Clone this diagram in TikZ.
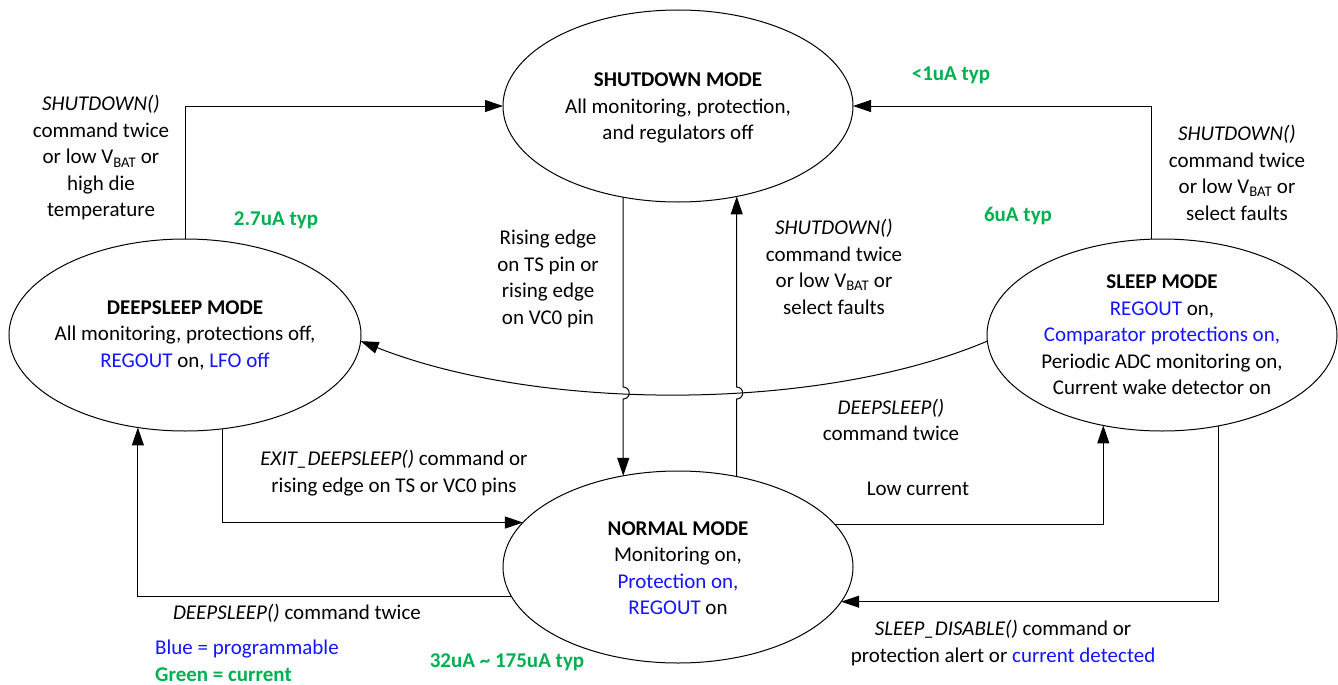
\documentclass[tikz,border=0pt]{standalone}
\usepackage{fontspec}
\setmainfont{Carlito}
\usetikzlibrary{arrows.meta,shapes.geometric}
\definecolor{prog}{RGB}{20,20,255}
\definecolor{cur}{RGB}{0,176,80}
\begin{document}
\begin{tikzpicture}[x=1pt,y=-1pt,
  state/.style={draw, ellipse, line width=1pt, minimum width=350pt, minimum height=192pt, inner sep=0pt, outer sep=0pt},
  txt/.style={align=center, font=\fontsize{21}{26.5}\selectfont, inner sep=0pt},
  curtxt/.style={txt, text=cur, font=\fontsize{21}{26.5}\selectfont\bfseries},
  conn/.style={line width=1pt, -{Triangle[length=18pt,width=12pt]}},
]
\useasboundingbox (0,0) rectangle (1338,685);

% states
\node[state] (shut) at (678,106) {};
\node[state, minimum width=352pt] (deep) at (185,335) {};
\node[state] (sleep) at (1162,335) {};
\node[state] (norm) at (678,567) {};

\node[txt] (tshut) at ([yshift=-2pt]shut.center) {\textbf{SHUTDOWN MODE}\\All monitoring, protection,\\and regulators off};
\node[txt] (tdeep) at (deep.center) {\textbf{DEEPSLEEP MODE}\\All monitoring, protections off,\\\textcolor{prog}{REGOUT} on, \textcolor{prog}{LFO off}};
\node[txt] (tsleep) at (sleep.center) {\textbf{SLEEP MODE}\\\textcolor{prog}{REGOUT} on,\\\textcolor{prog}{Comparator protections on,}\\Periodic ADC monitoring on,\\Current wake detector on};
\node[txt] (tnorm) at ([yshift=-1pt]norm.center) {\textbf{NORMAL MODE}\\Monitoring on,\\\textcolor{prog}{Protection on,}\\\textcolor{prog}{REGOUT} on};

% hop coordinates
\coordinate (hopTop) at (0,387);
\coordinate (hopBot) at (0,399);

% connectors
\draw[conn] (deep.north) -- (deep.north |- shut.west) -- (shut.west);
\draw[conn] (sleep.96) -- (sleep.96 |- shut.east) -- (shut.east);
\draw[conn] (sleep.-178) .. controls (820,412) and (540,412) .. (deep.-2.6);
\draw[conn] (shut.-121.6) -- (shut.-121.6 |- hopTop) arc[start angle=-90, end angle=90, radius=6] -- (norm.121.6);
\draw[conn] (norm.57.4) -- (norm.57.4 |- hopBot) arc[start angle=90, end angle=-90, radius=6] -- (shut.-57.4);
\draw[conn] (deep.-68.5) -- (deep.-68.5 |- norm.164.2) -- (norm.164.2);
\draw[conn] (norm.-170.5) -- (deep.-117.5 |- norm.-170.5) -- (deep.-117.5);
\draw[conn] (norm.15.8) -- (sleep.-123.6 |- norm.15.8) -- (sleep.-123.6);
\draw[conn] (sleep.-58.4) -- (sleep.-58.4 |- norm.-12.5) -- (norm.-12.5);

% labels
\node[txt] (lTL) at (101,158) {\textit{SHUTDOWN()}\\command twice\\or low V\textsubscript{BAT} or\\high die\\temperature};
\node[curtxt] (c27) at (276,220) {2.7uA typ};
\node[curtxt] (c1) at (951,75) {<1uA typ};
\node[curtxt] (c6) at (1018,216) {6uA typ};
\node[txt] (lTR) at (1237,173) {\textit{SHUTDOWN()}\\command twice\\or low V\textsubscript{BAT} or\\select faults};
\node[txt] (lRise) at (548,279) {Rising edge\\on TS pin or\\rising edge\\on VC0 pin};
\node[txt] (lMid) at (834,267) {\textit{SHUTDOWN()}\\command twice\\or low V\textsubscript{BAT} or\\select faults};
\node[txt] (lDS) at (891,420) {\textit{DEEPSLEEP()}\\command twice};
\node[txt] (lExit) at (394,473) {\textit{EXIT\_DEEPSLEEP()} command or\\rising edge on TS or VC0 pins};
\node[txt] (lDS2) at (297,613) {\textit{DEEPSLEEP()} command twice};
\node[txt, anchor=west, align=left] (legend) at (155,661) {\textcolor{prog}{Blue = programmable}\\\textcolor{cur}{\textbf{Green = current}}};
\node[curtxt] (c32) at (507,662) {32uA \textasciitilde{} 175uA typ};
\node[txt] (lLow) at (918,489) {Low current};
\node[txt] (lSD) at (1003,643) {\textit{SLEEP\_DISABLE()} command or\\protection alert or \textcolor{prog}{current detected}};
\end{tikzpicture}
\end{document}
